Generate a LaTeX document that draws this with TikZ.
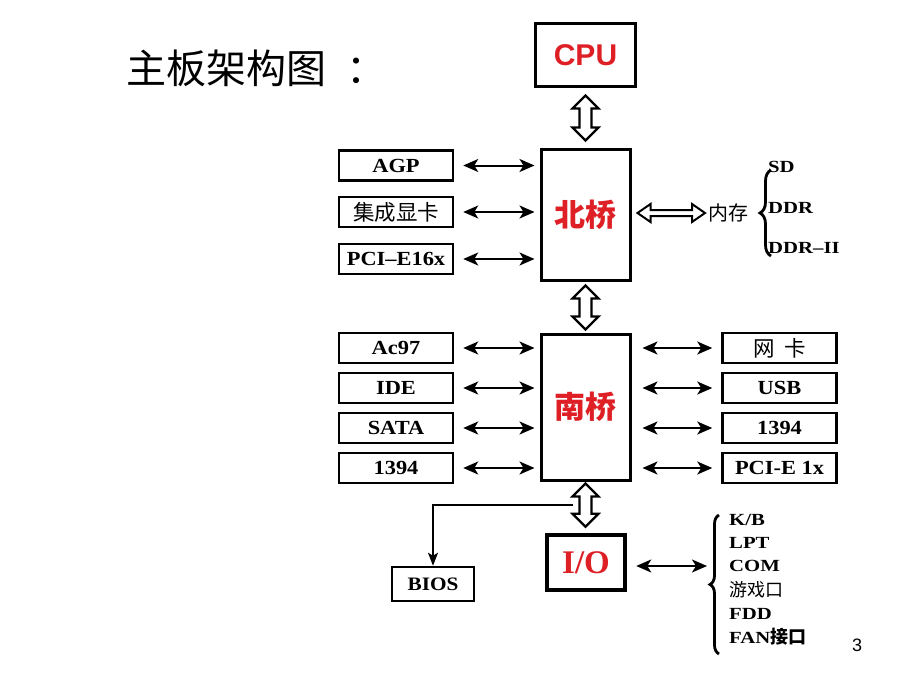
\documentclass[tikz,border=0pt]{standalone}
\usepackage{fontspec}
\setmainfont{Liberation Serif}
\newfontfamily\cjk{Noto Sans CJK SC}
\newfontfamily\arialf{Liberation Sans}
\newfontfamily\widef[FakeStretch=1.22]{Liberation Serif}
\newfontfamily\boxf[FakeStretch=1.12]{Liberation Serif}
\usetikzlibrary{arrows.meta,decorations.pathreplacing,calc}
\definecolor{chipred}{RGB}{222,32,38}
\begin{document}
\begin{tikzpicture}[x=1pt,y=-1pt,
  lbox/.style={draw, line width=2.5pt, minimum width=114pt, minimum height=30pt, inner sep=0pt, font=\boxf\fontsize{20}{20}\selectfont\bfseries},
  cbox/.style={lbox, font=\cjk\fontsize{21.5}{21.5}\selectfont},
  chip/.style={draw, line width=3pt, inner sep=0pt, text=chipred},
  harrow/.style={line width=2pt, >={Stealth[length=15pt,width=13pt,inset=4pt]}, <->},
  hollowv/.style={draw, fill=white, line width=2.2pt, line join=miter, to path={
     let \p1=(\tikztostart), \p2=(\tikztotarget) in
     (\x1,\y1) -- (\x1+13pt,\y1-13pt) -- (\x1+6pt,\y1-13pt) -- (\x1+6pt,\y2+13pt) -- (\x1+13pt,\y2+13pt)
     -- (\x1,\y2) -- (\x1-13pt,\y2+13pt) -- (\x1-6pt,\y2+13pt) -- (\x1-6pt,\y1-13pt) -- (\x1-13pt,\y1-13pt) -- cycle}},
  hollowh/.style={draw, fill=white, line width=2pt, line join=miter, to path={
     let \p1=(\tikztostart), \p2=(\tikztotarget) in
     (\x1,\y1) -- (\x1+13pt,\y1+9pt) -- (\x1+13pt,\y1+3pt) -- (\x2-13pt,\y1+3pt) -- (\x2-13pt,\y1+9pt)
     -- (\x2,\y1) -- (\x2-13pt,\y1-9pt) -- (\x2-13pt,\y1-3pt) -- (\x1+13pt,\y1-3pt) -- (\x1+13pt,\y1-9pt) -- cycle}},
  brc/.style={line width=2.8pt, decorate, decoration={brace, amplitude=11pt}},
  lst/.style={font=\widef\fontsize{17}{17}\selectfont\bfseries, anchor=west, inner sep=0pt}
]
\useasboundingbox[fill=white] (0,0) rectangle (920,690);

\node[anchor=west, inner sep=0pt, font=\cjk\fontsize{40}{40}\selectfont] (title) at (126,68) {主板架构图\hspace{20pt}：};

\node[chip, minimum width=100pt, minimum height=63pt, font=\arialf\fontsize{30}{30}\selectfont\bfseries] (cpu) at (585.5,55.5) {CPU};
\node[chip, minimum width=89pt, minimum height=131pt, font=\cjk\fontsize{31}{31}\selectfont\bfseries] (nb) at (585.5,214.5) {北桥};
\node[chip, minimum width=89pt, minimum height=146pt, font=\cjk\fontsize{31}{31}\selectfont\bfseries] (sb) at (585.5,407) {南桥};
\node[chip, line width=4.5pt, minimum width=78pt, minimum height=55pt, font=\fontsize{33}{33}\selectfont\bfseries] (io) at (586,562.5) {I/O};

\node[lbox] (agp) at (396,165.5) {AGP};
\node[cbox] (igp) at (396,212) {集成显卡};
\node[lbox] (pcie16) at (396,259) {PCI\textendash E16x};

\node[lbox] (ac97) at (396,348) {Ac97};
\node[lbox] (ide) at (396,388) {IDE};
\node[lbox] (sata) at (396,428) {SATA};
\node[lbox] (fw1) at (396,468) {1394};

\node[cbox] (nic) at (779.5,348) {网\hspace{0.45em}卡};
\node[lbox] (usb) at (779.5,388) {USB};
\node[lbox] (fw2) at (779.5,428) {1394};
\node[lbox] (pcie1) at (779.5,468) {PCI-E 1x};

\node[lbox, minimum width=82pt, minimum height=34pt, font=\boxf\fontsize{19}{19}\selectfont\bfseries] (bios) at (433,584) {BIOS};

% hollow bus arrows
\draw[hollowv] ([yshift=-7pt]cpu.south) to ([yshift=7pt]nb.north);
\draw[hollowv] ([yshift=-4pt]nb.south) to ([yshift=3pt]sb.north);
\draw[hollowv] ([yshift=-2pt]sb.south) to ([yshift=6pt]io.north);

% memory
\node[anchor=west, inner sep=0pt, font=\cjk\fontsize{20}{20}\selectfont] (mem) at (708,213) {内存};
\draw[hollowh] ([xshift=6pt]nb.east |- mem.west) to ([xshift=-3pt]mem.west);
\coordinate (mtop) at (771,170);
\coordinate (mbot) at (771,256);
\draw[brc] (mbot) -- (mtop);
\node[lst] (sd) at (768,167) {SD};
\node[lst] (ddr) at (768,208) {DDR};
\node[lst] (ddr2) at (768,248) {DDR\textendash II};

% north bridge links
\draw[harrow, shorten <=9pt, shorten >=5pt] (agp.east) -- (nb.west |- agp.east);
\draw[harrow, shorten <=9pt, shorten >=5pt] (igp.east) -- (nb.west |- igp.east);
\draw[harrow, shorten <=9pt, shorten >=5pt] (pcie16.east) -- (nb.west |- pcie16.east);

% south bridge links
\draw[harrow, shorten <=9pt, shorten >=5pt] (ac97.east) -- (sb.west |- ac97.east);
\draw[harrow, shorten <=9pt, shorten >=5pt] (ide.east) -- (sb.west |- ide.east);
\draw[harrow, shorten <=9pt, shorten >=5pt] (sata.east) -- (sb.west |- sata.east);
\draw[harrow, shorten <=9pt, shorten >=5pt] (fw1.east) -- (sb.west |- fw1.east);
\draw[harrow, shorten <=11pt, shorten >=9pt] (sb.east |- nic.west) -- (nic.west);
\draw[harrow, shorten <=11pt, shorten >=9pt] (sb.east |- usb.west) -- (usb.west);
\draw[harrow, shorten <=11pt, shorten >=9pt] (sb.east |- fw2.west) -- (fw2.west);
\draw[harrow, shorten <=11pt, shorten >=9pt] (sb.east |- pcie1.west) -- (pcie1.west);

% BIOS branch
\coordinate (bsplit) at (573,505);
\draw[line width=1.6pt, -{Stealth[length=13pt,width=10pt,inset=3pt]}] (bsplit) -| (bios.north);

% I/O list
\coordinate (iotop) at (719,515);
\coordinate (iobot) at (719,654);
\coordinate (iotip) at (707,566);
\draw[brc, decoration={brace, amplitude=9pt}] (iobot) -- (iotop);
\draw[harrow, shorten <=9pt] (io.east |- iotip) -- (iotip);
\node[lst] (kb) at (729,520) {K/B};
\node[lst] (lpt) at (729,543) {LPT};
\node[lst] (com) at (729,566) {COM};
\node[lst, font=\cjk\fontsize{18}{18}\selectfont] (game) at (729,590) {游戏口};
\node[lst] (fdd) at (729,614) {FDD};
\node[lst] (fan) at (729,637) {FAN{\cjk\fontsize{18}{18}\selectfont 接口}};

\node[font=\arialf\fontsize{18}{18}\selectfont] (pg) at (857,645) {3};
\end{tikzpicture}
\end{document}
